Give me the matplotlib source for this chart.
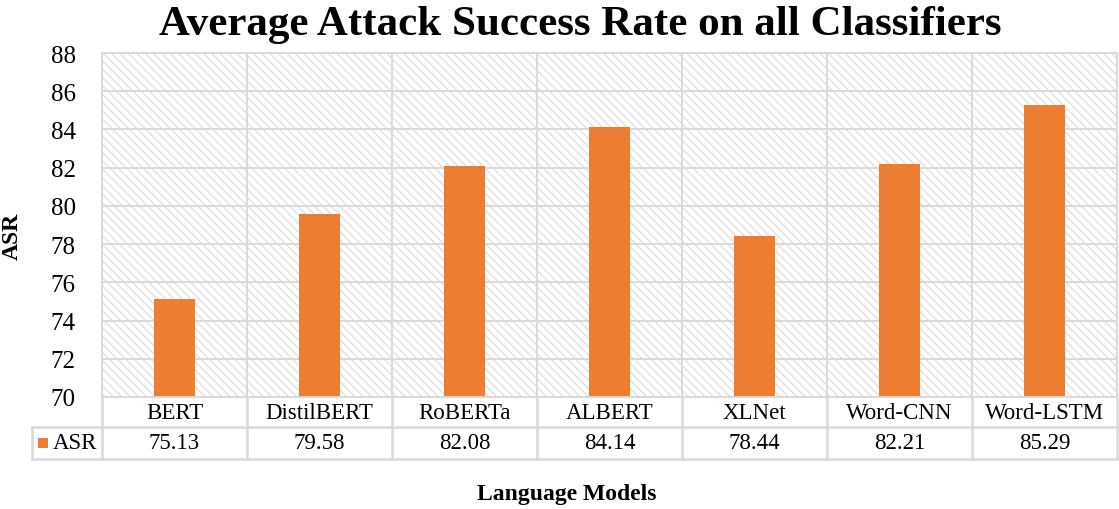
import numpy as np
import matplotlib
matplotlib.use('Agg')
import matplotlib.pyplot as plt
from matplotlib.patches import Rectangle

# average attack success rate for each model
models = ['BERT', 'DistilBERT', 'RoBERTa', 'ALBERT', 'XLNet', 'Word-CNN', 'Word-LSTM']
asr = [75.13, 79.58, 82.08, 84.14, 78.44, 82.21, 85.29]
yticks = [70, 72, 74, 76, 78, 80, 82, 84, 86, 88]

barColor = '#ED7D31'
gridColor = '#d9d9d9'

plt.rcParams['font.family'] = ['Liberation Serif', 'DejaVu Serif']
plt.rcParams['hatch.linewidth'] = 0.8
plt.rcParams['hatch.color'] = '#dadada'

W, H = 1119, 510
fig = plt.figure(figsize=(W / 100, H / 100), dpi=100)

# main plot area (pixel box 102..1117 x 54..398)
ax = fig.add_axes([102 / W, 1 - 398 / H, 1015 / W, 344 / H])
n = len(models)
x = np.arange(n)
ax.set_xlim(-0.5, n - 0.5)
ax.set_ylim(yticks[0], yticks[-1])

# hatched background
bg = Rectangle((0, 0), 1, 1, transform=ax.transAxes, facecolor='white',
               edgecolor='#dadada', hatch='\\\\\\\\', linewidth=0, zorder=0.1)
ax.add_patch(bg)

ax.bar(x, asr, width=0.28, color=barColor, zorder=2)

ax.set_yticks(yticks)
ax.set_yticklabels([str(t) for t in yticks], fontsize=18)
ax.tick_params(axis='y', length=0, pad=19)
ax.set_xticks(np.arange(-0.5, n, 1.0), minor=True)
ax.set_xticks([])
ax.tick_params(axis='x', which='both', length=0)
ax.grid(axis='y', which='major', color=gridColor, linewidth=1.4, zorder=0.5)
ax.grid(axis='x', which='minor', color=gridColor, linewidth=1.4, zorder=0.5)
ax.set_axisbelow(True)
for s in ax.spines.values():
    s.set_color(gridColor)
    s.set_linewidth(1.4)

ax.set_ylabel('ASR', fontsize=17, fontweight='bold')
ax.yaxis.set_label_coords(-0.078, 0.47)

# data table under the plot (pixel box 32..1117 x 398..460)
tleft = 70 / 145
tax = fig.add_axes([32 / W, 1 - 460 / H, 1085 / W, 62 / H])
tax.set_xlim(-0.5 - tleft, n - 0.5)
tax.set_ylim(2, 0)
tax.axis('off')
split = 30 / 31
lw = 1.8
tax.plot([-0.5 - tleft, n - 0.5], [split, split], color=gridColor, lw=lw, clip_on=False)
tax.plot([-0.5 - tleft, n - 0.5], [2, 2], color=gridColor, lw=lw, clip_on=False)
tax.plot([-0.5 - tleft, -0.5 - tleft], [split, 2], color=gridColor, lw=lw, clip_on=False)
for b in np.arange(-0.5, n, 1.0):
    tax.plot([b, b], [0, 2], color=gridColor, lw=lw, clip_on=False)
for i in range(n):
    tax.text(x[i], split / 2 + 0.03, models[i], ha='center', va='center', fontsize=16.5)
    tax.text(x[i], (split + 2) / 2, '%.2f' % asr[i], ha='center', va='center', fontsize=16.5)

# legend key in the first column
tax.add_patch(Rectangle((-0.5 - tleft + 0.04, (split + 2) / 2 - 0.17), 0.072, 0.34,
                        facecolor=barColor, edgecolor='none', clip_on=False))
tax.text(-0.5 - tleft + 0.145, (split + 2) / 2, 'ASR', ha='left', va='center', fontsize=16.5)

fig.text(580 / W, 1 - 25 / H, 'Average Attack Success Rate on all Classifiers',
         ha='center', va='center', fontsize=31, fontweight='bold')
fig.text(567 / W, 1 - 495 / H, 'Language Models', ha='center', va='center',
         fontsize=17, fontweight='bold')

fig.savefig('out.png', dpi=100)
